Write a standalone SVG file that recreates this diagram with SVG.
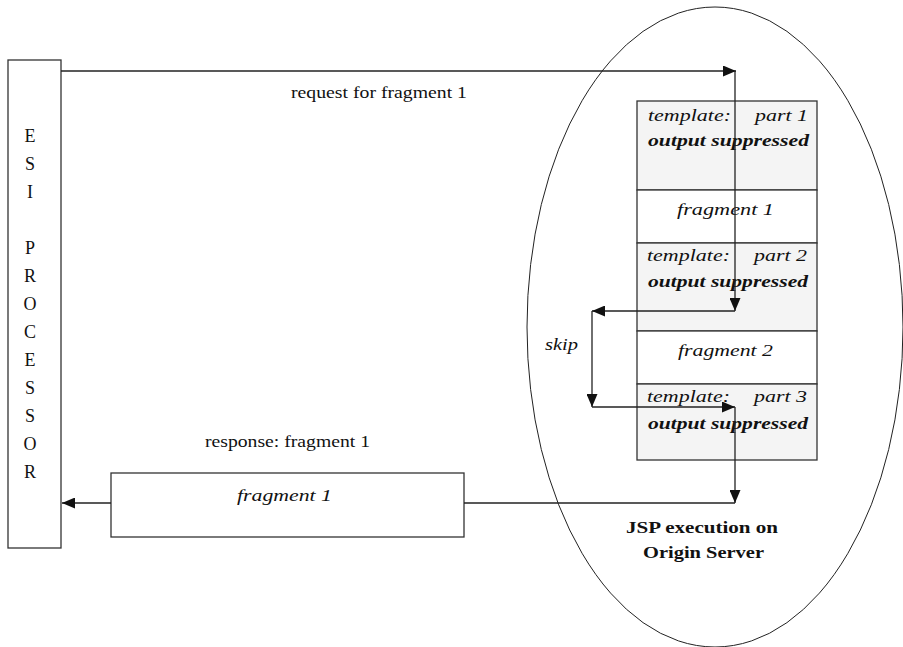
<svg xmlns="http://www.w3.org/2000/svg" width="903" height="647" viewBox="0 0 903 647">
<style>
  text { font-family: "Liberation Serif", "Times New Roman", serif; font-size: 17px; fill: #111; }
  .esi { font-size: 18px; }
  .it { font-style: italic; }
  .bi { font-style: italic; font-weight: bold; }
  .b { font-weight: bold; }
  .box { fill: #fff; stroke: #333; stroke-width: 1.3; }
  .tpl { fill: #f4f4f4; stroke: #333; stroke-width: 1.3; }
  .frag { fill: #fff; stroke: #333; stroke-width: 1.3; }
  .conn { fill: none; stroke: #222; stroke-width: 1.3; }
  .oval { fill: none; stroke: #222; stroke-width: 1; }
</style>
<defs>
  <marker id="arr" markerUnits="userSpaceOnUse" markerWidth="13" markerHeight="11" refX="13" refY="5.5" orient="auto">
    <path d="M0,0 L13,5.5 L0,11 z" fill="#111"/>
  </marker>
</defs>
<rect width="903" height="647" fill="#fff"/>

<g id="origin-server">
  <ellipse class="oval" cx="715" cy="327" rx="188" ry="320"/>
  <text class="b" x="626" y="533" textLength="152" lengthAdjust="spacingAndGlyphs">JSP execution on</text>
  <text class="b" x="643" y="558" textLength="121" lengthAdjust="spacingAndGlyphs">Origin Server</text>
</g>

<g id="esi-processor">
  <rect class="box" x="8" y="60" width="53" height="488"/>
  <g class="esi" text-anchor="middle">
    <text class="esi" x="30" y="142">E</text>
    <text class="esi" x="30" y="170">S</text>
    <text class="esi" x="30" y="198">I</text>
    <text class="esi" x="30" y="254">P</text>
    <text class="esi" x="30" y="282">R</text>
    <text class="esi" x="30" y="310">O</text>
    <text class="esi" x="30" y="338">C</text>
    <text class="esi" x="30" y="366">E</text>
    <text class="esi" x="30" y="394">S</text>
    <text class="esi" x="30" y="422">S</text>
    <text class="esi" x="30" y="450">O</text>
    <text class="esi" x="30" y="478">R</text>
  </g>
</g>

<g id="template-part1">
  <rect class="tpl" x="637" y="101" width="180" height="89"/>
  <text class="it" x="648" y="121" textLength="83" lengthAdjust="spacingAndGlyphs">template:</text>
  <text class="it" x="755" y="121" textLength="53" lengthAdjust="spacingAndGlyphs">part 1</text>
  <text class="bi" x="648" y="146" textLength="161" lengthAdjust="spacingAndGlyphs">output suppressed</text>
</g>
<g id="fragment1-row">
  <rect class="frag" x="637" y="190" width="180" height="53"/>
  <text class="it" x="677" y="215" textLength="97" lengthAdjust="spacingAndGlyphs">fragment 1</text>
</g>
<g id="template-part2">
  <rect class="tpl" x="637" y="243" width="180" height="88"/>
  <text class="it" x="647" y="261" textLength="83" lengthAdjust="spacingAndGlyphs">template:</text>
  <text class="it" x="754" y="261" textLength="53" lengthAdjust="spacingAndGlyphs">part 2</text>
  <text class="bi" x="648" y="287" textLength="160" lengthAdjust="spacingAndGlyphs">output suppressed</text>
</g>
<g id="fragment2-row">
  <rect class="frag" x="637" y="331" width="180" height="53"/>
  <text class="it" x="678" y="356" textLength="95" lengthAdjust="spacingAndGlyphs">fragment 2</text>
</g>
<g id="template-part3">
  <rect class="tpl" x="637" y="384" width="180" height="76"/>
  <text class="it" x="647" y="402" textLength="83" lengthAdjust="spacingAndGlyphs">template:</text>
  <text class="it" x="754" y="402" textLength="53" lengthAdjust="spacingAndGlyphs">part 3</text>
  <text class="bi" x="648" y="429" textLength="160" lengthAdjust="spacingAndGlyphs">output suppressed</text>
</g>

<g id="response-fragment1">
  <rect class="box" x="111" y="473" width="353" height="64"/>
  <text class="it" x="237" y="501" textLength="95" lengthAdjust="spacingAndGlyphs">fragment 1</text>
</g>

<g id="connectors">
  <path class="conn" d="M61,71 H736" marker-end="url(#arr)"/>
  <path class="conn" d="M735,71 V311" marker-end="url(#arr)"/>
  <path class="conn" d="M735,311 H592" marker-end="url(#arr)"/>
  <path class="conn" d="M592,311 V407" marker-end="url(#arr)"/>
  <path class="conn" d="M592,407 H735" marker-end="url(#arr)"/>
  <path class="conn" d="M735,407 V503" marker-end="url(#arr)"/>
  <path class="conn" d="M735,503 H464"/>
  <path class="conn" d="M111,503 H62" marker-end="url(#arr)"/>
  <text x="291" y="98" textLength="176" lengthAdjust="spacingAndGlyphs">request for fragment 1</text>
  <text x="205" y="447" textLength="165" lengthAdjust="spacingAndGlyphs">response: fragment 1</text>
  <text class="it" x="545" y="350" textLength="33" lengthAdjust="spacingAndGlyphs">skip</text>
</g>
</svg>
